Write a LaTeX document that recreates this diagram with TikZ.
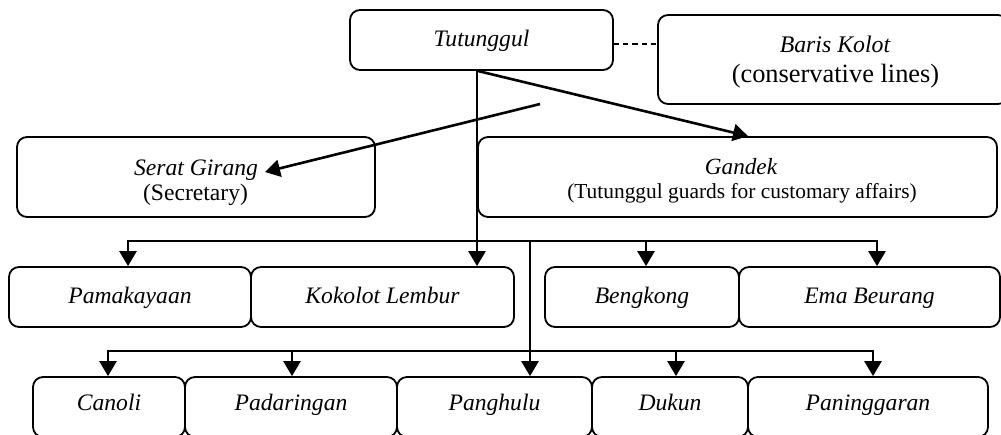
\documentclass[tikz,border=0pt]{standalone}
\usepackage{fontspec}
\setmainfont{Liberation Serif}
\usetikzlibrary{arrows.meta}
\begin{document}
\begin{tikzpicture}[x=0.5pt,y=-0.5pt,
  box/.style={draw, line width=0.9pt, rounded corners=5pt, inner sep=0pt, align=center,
    font=\fontsize{11.8}{14}\selectfont\itshape},
  rowtwo/.style={box, text height=8.5pt, text depth=2.5pt, minimum height=30pt},
  rowthree/.style={box, text height=7pt, text depth=4pt, minimum height=30pt},
  txt/.style={inner sep=0pt, anchor=base},
  conn/.style={line width=1.3pt},
  arr/.style={conn, -{Triangle[length=7.5pt,width=8.5pt]}},
  dashlink/.style={line width=1pt, dash pattern=on 2.6pt off 2pt},
]
\useasboundingbox (0,0) rectangle (1001,434);
\clip (0,0) rectangle (1001,434);

% top level
\node[box, text height=9pt, text depth=2.3pt, minimum width=131.5pt, minimum height=30pt] (tut) at (481.5,40) {Tutunggul};
\node[box, minimum width=175pt, minimum height=44.5pt] (baris) at (833,59.5) {};
\node[txt, font=\fontsize{11.9}{14}\selectfont\itshape] (baris1) at (835,52) {Baris Kolot};
\node[txt, font=\fontsize{13.2}{15}\selectfont] (baris2) at (835.5,82) {(conservative lines)};

% second level
\node[box, minimum width=179pt, minimum height=40pt] (serat) at (196,177) {};
\node[txt, font=\fontsize{11.8}{14}\selectfont\itshape] (serat1) at (196,175) {Serat Girang};
\node[txt, font=\fontsize{11.8}{14}\selectfont] (serat2) at (195.5,200) {(Secretary)};
\node[box, minimum width=259.5pt, minimum height=40pt] (gan) at (737.5,177) {};
\node[txt, font=\fontsize{11.6}{14}\selectfont\itshape] (gan1) at (741,174) {Gandek};
\node[txt, font=\fontsize{10.7}{13}\selectfont] (gan2) at (742,198) {(Tutunggul guards for customary affairs)};

% third level
\node[rowtwo, minimum width=121pt] (pam) at (130,297) {Pamakayaan};
\node[rowtwo, minimum width=131.5pt] (kok) at (382.5,297) {Kokolot Lembur};
\node[rowtwo, minimum width=97pt] (ben) at (642,297) {Bengkong};
\node[rowtwo, minimum width=130.5pt] (ema) at (869.5,297) {Ema Beurang};

% fourth level
\node[rowthree, minimum width=76pt] (can) at (109,407) {Canoli};
\node[rowthree, minimum width=106pt] (pad) at (291,407) {Padaringan};
\node[rowthree, minimum width=97.5pt] (pan) at (494.5,407) {Panghulu};
\node[rowthree, minimum width=78pt] (duk) at (670,407) {Dukun};
\node[rowthree, minimum width=120pt] (ping) at (868,407) {Paninggaran};

% dashed link
\coordinate (dy) at (630,44);
\draw[dashlink] (dy -| tut.east) -- (dy -| baris.west);

% connectors from Tutunggul
\coordinate (t0) at (477,70);
\coordinate (t1) at (478,71);
\coordinate (g1) at (748,0);
\coordinate (s0) at (540,104);
\coordinate (s1) at (265,172);
\draw[arr] (t0) -- (t0 |- kok.north);
\draw[arr] (t1) -- (g1 |- gan.north);
\draw[arr] (s0) -- (s1);

% second bus
\coordinate (b2L) at (128,241);
\coordinate (b2M) at (530,241);
\coordinate (b2B) at (646,241);
\coordinate (b2R) at (877,241);
\draw[arr] (b2M) -- (b2L) -- (b2L |- pam.north);
\draw[arr] (b2M) -- (b2R) -- (b2R |- ema.north);
\draw[arr] (b2B) -- (b2B |- ben.north);
\draw[arr] (b2M) -- (b2M |- pan.north);

% third bus
\coordinate (b3L) at (108,351);
\coordinate (b3M) at (530,351);
\coordinate (b3P) at (292,351);
\coordinate (b3D) at (676,351);
\coordinate (b3R) at (873,351);
\draw[arr] (b3M) -- (b3L) -- (b3L |- can.north);
\draw[arr] (b3M) -- (b3R) -- (b3R |- ping.north);
\draw[arr] (b3P) -- (b3P |- pad.north);
\draw[arr] (b3D) -- (b3D |- duk.north);
\end{tikzpicture}
\end{document}
